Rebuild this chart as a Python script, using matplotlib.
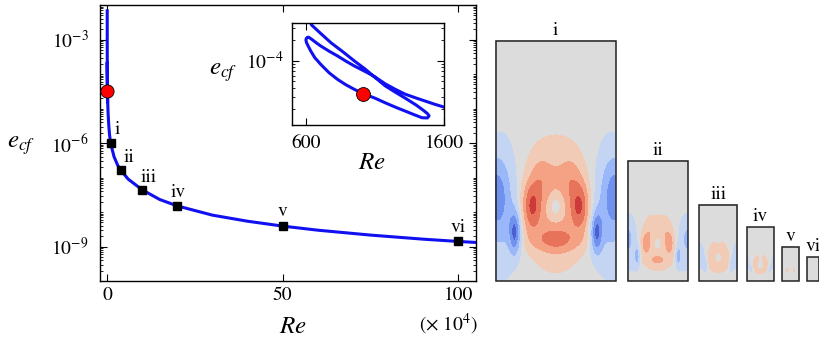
import numpy as np
import matplotlib
matplotlib.use('Agg')
import matplotlib.pyplot as plt
from matplotlib.ticker import FixedLocator, LogLocator, NullFormatter
from matplotlib.patches import Rectangle

# continuation curve (Re, e_cf), in order along the branch
re_curve = [560, 575, 590, 605, 620, 640, 700, 782, 870, 953, 1030, 1100, 1174,
            1250, 1319, 1400, 1450, 1480, 1492, 1480, 1441, 1380, 1319, 1250,
            1174, 1100, 1015, 953, 890, 831, 770, 709, 665, 636, 615, 605, 601,
            603, 610, 620, 640, 680, 709, 770, 831, 890, 953, 1050, 1100, 1174,
            1250, 1319, 1400, 1465, 1530, 1604, 2000, 3000, 5000, 7000, 1e4, 2e4,
            3e4, 4e4, 6e4, 1e5, 1.5e5, 2e5, 3e5, 4e5, 5e5, 6e5, 7.5e5, 9e5, 1e6,
            1.05e6]
ecf_curve = [6.8e-3, 3.0e-3, 1.4e-3, 7.5e-4, 4.6e-4, 3.3e-4, 2.55e-4, 1.81e-4,
             1.33e-4, 9.8e-5, 7.5e-5, 5.7e-5, 4.3e-5, 3.45e-5, 2.85e-5, 2.25e-5,
             1.9e-5, 1.7e-5, 1.58e-5, 1.47e-5, 1.48e-5, 1.65e-5, 1.85e-5, 2.1e-5,
             2.44e-5, 2.85e-5, 3.3e-5, 3.8e-5, 4.45e-5, 5.3e-5, 6.6e-5, 8.75e-5,
             1.1e-4, 1.37e-4, 1.65e-4, 1.82e-4, 1.97e-4, 2.08e-4, 2.16e-4, 2.18e-4,
             2.05e-4, 1.78e-4, 1.62e-4, 1.36e-4, 1.16e-4, 9.8e-5, 8.3e-5, 6.6e-5,
             5.8e-5, 4.6e-5, 3.8e-5, 3.25e-5, 2.85e-5, 2.58e-5, 2.33e-5, 2.1e-5,
             1.46e-5, 7.4e-6, 3.2e-6, 1.8e-6, 1.0e-6, 4.0e-7, 2.3e-7, 1.6e-7,
             9.0e-8, 4.4e-8, 2.3e-8, 1.5e-8, 8.1e-9, 5.4e-9, 3.9e-9, 2.97e-9,
             2.14e-9, 1.63e-9, 1.4e-9, 1.31e-9]

# labelled solutions
sol_names = ['i', 'ii', 'iii', 'iv', 'v', 'vi']
sol_re = [1e4, 4e4, 1e5, 2e5, 5e5, 1e6]
sol_ecf = [1.0e-6, 1.6e-7, 4.4e-8, 1.5e-8, 3.9e-9, 1.4e-9]
sol_amp = [1.0, 0.5, 0.3, 0.19, 0.11, 0.05]   # relative strength of each snapshot

# red dot
dot_re = 1015
dot_ecf = 3.3e-5

# snapshot field: gaussian pieces in box coords (u across, v up from the bottom)
blob_u = [0.50, 0.30, 0.70, 0.50, 0.50, 0.37, 0.63, 0.00, 1.00, 0.16, 0.84, 0.05, 0.95]
blob_v = [0.32, 0.31, 0.31, 0.17, 0.31, 0.43, 0.43, 0.36, 0.36, 0.20, 0.20, 0.30, 0.30]
blob_su = [0.157, 0.05, 0.05, 0.14, 0.06, 0.05, 0.05, 0.07, 0.07, 0.035, 0.035, 0.10, 0.10]
blob_sv = [0.15, 0.07, 0.07, 0.035, 0.05, 0.06, 0.06, 0.10, 0.10, 0.06, 0.06, 0.18, 0.18]
blob_amp = [0.5, 0.65, 0.65, 0.4, -0.5, 0.2, 0.2, -0.45, -0.45, -0.8, -0.8, -0.35, -0.35]

# styling
line_blue = '#1010f0'
band_levels = [-10, -0.8, -0.55, -0.3, -0.08, 0.08, 0.3, 0.55, 0.8, 10]
band_colors = ['#4a60d2', '#7092ee', '#9ab8f9', '#c4d5f3', '#dcdcdc',
               '#f2cbb7', '#f4a283', '#e7735a', '#cc3a3a']

plt.rcParams['font.family'] = 'STIXGeneral'
plt.rcParams['mathtext.fontset'] = 'stix'
plt.rcParams['xtick.direction'] = 'in'
plt.rcParams['ytick.direction'] = 'in'
plt.rcParams['xtick.top'] = True
plt.rcParams['ytick.right'] = True
plt.rcParams['axes.linewidth'] = 1.0

fig = plt.figure(figsize=(8.2, 3.41), dpi=100)

# ---- main panel
ax = fig.add_axes([100/820, 60/341, 376/820, 276/341])
ax.plot(np.array(re_curve)/1e4, ecf_curve, color=line_blue, lw=2.2, zorder=2,
        solid_joinstyle='round')
ax.plot(np.array(sol_re)/1e4, sol_ecf, 's', color='k', ms=6, zorder=3)
ax.plot(dot_re/1e4, dot_ecf, 'o', mfc='red', mec='k', mew=0.6, ms=9.5, zorder=4)
ax.set_yscale('log')
ax.set_ylim(1e-10, 1e-2)
ax.set_xlim(-2, 105)
ax.yaxis.set_major_locator(FixedLocator([1e-9, 1e-6, 1e-3]))
ax.yaxis.set_minor_locator(LogLocator(base=10, subs=np.arange(1, 10), numticks=100))
ax.yaxis.set_minor_formatter(NullFormatter())
ax.set_xticks([0, 50, 100])
ax.tick_params(which='major', length=5, width=0.8, labelsize=14)
ax.tick_params(which='minor', length=2.5, width=0.6)
ax.tick_params(axis='y', which='both', pad=8)
ax.tick_params(axis='x', which='both', pad=4)

ax.set_xlabel('$Re$', fontsize=18)
ax.xaxis.label.set_va('center')
ax.xaxis.set_label_coords(0.513, -0.167)
ax.set_ylabel('$e_{cf}$', rotation=0, fontsize=18, va='center', ha='center')
ax.yaxis.set_label_coords(-0.21, 0.493)
ax.text(1.005, -0.159, r'($\times$ 10$^4$)', transform=ax.transAxes,
        ha='right', va='center', fontsize=14)

# labels next to the squares
lab_dx = [5, 5.5, 4.5, 0.7, 0, 0]
lab_dy = [9.5, 9.6, 9, 10, 10.8, 10]
for name, r, e, dx, dy in zip(sol_names, sol_re, sol_ecf, lab_dx, lab_dy):
    ax.annotate(name, (r/1e4, e), xytext=(dx, dy), textcoords='offset points',
                ha='center', va='center', fontsize=14)

# ---- inset
axin = fig.add_axes([292/820, (341-125.3)/341, 152/820, 102.3/341])
axin.plot(re_curve, ecf_curve, color=line_blue, lw=2.2, zorder=2,
          solid_joinstyle='round')
axin.plot(dot_re, dot_ecf, 'o', mfc='red', mec='k', mew=0.6, ms=10, zorder=4)
axin.set_yscale('log')
axin.set_xlim(500, 1600)
axin.set_ylim(1.15e-5, 3.5e-4)
axin.set_xticks([600, 1600])
axin.yaxis.set_major_locator(FixedLocator([1e-4]))
axin.yaxis.set_minor_locator(LogLocator(base=10, subs=np.arange(2, 10), numticks=100))
axin.yaxis.set_minor_formatter(NullFormatter())
axin.tick_params(which='major', length=5, width=0.8, labelsize=14)
axin.tick_params(which='minor', length=2.5, width=0.6)
axin.tick_params(axis='y', which='both', pad=6)
axin.tick_params(axis='x', which='both', pad=7)
axin.set_xlabel('$Re$', fontsize=18)
axin.xaxis.label.set_va('center')
axin.xaxis.set_label_coords(0.526, -0.369)
axin.set_ylabel('$e_{cf}$', rotation=0, fontsize=18, va='center', ha='center')
axin.yaxis.set_label_coords(-0.454, 0.521)

# ---- snapshots of the solutions
axr = fig.add_axes([490/820, 0, 330/820, 1])
axr.set_xlim(490, 820)
axr.set_ylim(341, 0)
axr.axis('off')

uu, vv = np.meshgrid(np.linspace(0, 1, 100), np.linspace(0, 1, 200))
field = np.zeros_like(uu)
for bu, bv, su, sv, a in zip(blob_u, blob_v, blob_su, blob_sv, blob_amp):
    field += a * np.exp(-0.5*((uu - bu)/su)**2 - 0.5*((vv - bv)/sv)**2)

x0 = 495.7
base = 280.7
h0 = 240
gaps = [12, 11.7, 9.7, 8.3, 8, 0]
for k, name in enumerate(sol_names):
    h = h0 * np.sqrt(sol_re[0] / sol_re[k])
    w = h / 2
    axr.contourf(x0 + uu*w, base - vv*h, sol_amp[k]*field,
                 levels=band_levels, colors=band_colors)
    axr.add_patch(Rectangle((x0, base - h), w, h, fill=False, lw=1.1, ec='#222222'))
    axr.text(x0 + w/2, base - h - 6, name, ha='center', va='baseline', fontsize=14)
    x0 += w + gaps[k]

fig.savefig('out.png', dpi=100)
